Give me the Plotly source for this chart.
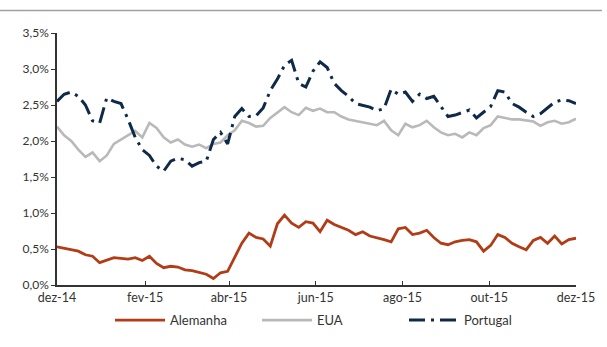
import pandas as pd
import plotly.graph_objects as go

dates = pd.date_range("2014-12-01", "2015-12-01", freq="5D")

alemanha = [0.53, 0.51, 0.50, 0.47, 0.42, 0.40, 0.31, 0.34, 0.38, 0.37,
            0.36, 0.38, 0.34, 0.40, 0.30, 0.24, 0.26, 0.25, 0.21, 0.20,
            0.18, 0.15, 0.09, 0.17, 0.19, 0.38, 0.58, 0.72, 0.66, 0.64,
            0.54, 0.85, 0.97, 0.86, 0.80, 0.88, 0.86, 0.74, 0.90, 0.84,
            0.80, 0.76, 0.70, 0.74, 0.68, 0.66, 0.63, 0.60, 0.78, 0.80,
            0.70, 0.72, 0.76, 0.66, 0.58, 0.56, 0.60, 0.62, 0.63, 0.60,
            0.47, 0.55, 0.70, 0.66, 0.58, 0.53, 0.49, 0.62, 0.66, 0.58,
            0.68, 0.57, 0.63, 0.65]

eua = [2.20, 2.08, 2.00, 1.88, 1.78, 1.84, 1.72, 1.80, 1.96, 2.02,
       2.08, 2.14, 2.05, 2.25, 2.18, 2.05, 1.98, 2.02, 1.95, 1.92,
       1.95, 1.90, 1.96, 1.98, 2.08, 2.15, 2.28, 2.25, 2.20, 2.21,
       2.32, 2.40, 2.47, 2.40, 2.36, 2.46, 2.42, 2.45, 2.40, 2.40,
       2.34, 2.30, 2.28, 2.26, 2.24, 2.22, 2.28, 2.15, 2.08, 2.24,
       2.19, 2.22, 2.28, 2.19, 2.12, 2.08, 2.10, 2.05, 2.12, 2.08,
       2.18, 2.22, 2.34, 2.32, 2.30, 2.30, 2.28, 2.27, 2.21, 2.26,
       2.28, 2.24, 2.26, 2.31]

portugal = [2.55, 2.65, 2.68, 2.62, 2.50, 2.28, 2.25, 2.60, 2.55, 2.52,
            2.30, 2.05, 1.88, 1.80, 1.65, 1.58, 1.72, 1.76, 1.74, 1.65,
            1.70, 1.72, 2.02, 2.12, 1.96, 2.34, 2.45, 2.34, 2.35, 2.46,
            2.70, 2.86, 3.05, 3.12, 2.80, 2.75, 2.97, 3.10, 3.02, 2.80,
            2.70, 2.62, 2.52, 2.50, 2.47, 2.42, 2.45, 2.72, 2.65, 2.68,
            2.55, 2.65, 2.59, 2.62, 2.48, 2.34, 2.36, 2.40, 2.43, 2.32,
            2.40, 2.48, 2.70, 2.68, 2.52, 2.47, 2.40, 2.34, 2.38, 2.46,
            2.54, 2.57, 2.56, 2.52]

x_tickvals = ["2014-12-01", "2015-02-01", "2015-04-01", "2015-06-01",
              "2015-08-01", "2015-10-01", "2015-12-01"]
x_ticktext = ["dez-14", "fev-15", "abr-15", "jun-15", "ago-15", "out-15", "dez-15"]
y_tickvals = [0, 0.5, 1.0, 1.5, 2.0, 2.5, 3.0, 3.5]
y_ticktext = ["0,0%", "0,5%", "1,0%", "1,5%", "2,0%", "2,5%", "3,0%", "3,5%"]

fig = go.Figure()
fig.add_trace(go.Scatter(x=dates, y=alemanha, mode="lines", name="Alemanha",
                         line=dict(color="#b23c16", width=2.8)))
fig.add_trace(go.Scatter(x=dates, y=eua, mode="lines", name="EUA",
                         line=dict(color="#b9b9b9", width=2.6)))
fig.add_trace(go.Scatter(x=dates, y=portugal, mode="lines", name="Portugal",
                         line=dict(color="#0f2a48", width=3, dash="16px,6px,3px,6px")))

fig.update_layout(
    width=607, height=347,
    margin=dict(l=57, r=22, t=33, b=56),
    paper_bgcolor="white", plot_bgcolor="white",
    font=dict(family="Lato, Open Sans, sans-serif", size=12, color="#333333"),
    showlegend=True,
    legend=dict(orientation="h", x=0.527, xanchor="center", y=-0.08, yanchor="top",
                bgcolor="rgba(0,0,0,0)",
                font=dict(size=13, color="#333333"), entrywidth=82,
                entrywidthmode="pixels", itemwidth=50, tracegroupgap=0),
    shapes=[dict(type="line", xref="paper", yref="paper", x0=-0.11, x1=1.05,
                 y0=1.089, y1=1.089, line=dict(color="#a0a0a0", width=1.5))],
)
fig.update_xaxes(range=["2014-12-01", "2015-12-01"], tickvals=x_tickvals, ticktext=x_ticktext,
                 showgrid=False, zeroline=False, showline=True, linecolor="#333333", linewidth=1.5,
                 ticks="inside", ticklen=4, tickcolor="#333333",
                 tickfont=dict(size=12.5, color="#333333"))
fig.update_yaxes(range=[0, 3.5], tickvals=y_tickvals, ticktext=y_ticktext,
                 showgrid=False, zeroline=False, showline=True, linecolor="#333333", linewidth=1.5,
                 ticks="outside", ticklen=4, tickcolor="#333333",
                 tickfont=dict(size=12, color="#333333"))

fig.write_html("out.html")
